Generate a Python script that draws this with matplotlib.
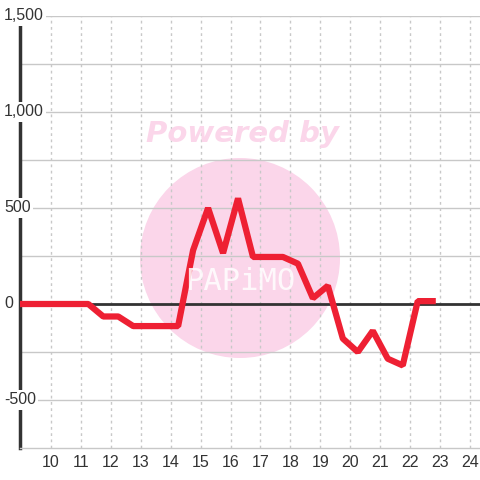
import matplotlib
matplotlib.use("Agg")
import matplotlib.pyplot as plt
from matplotlib.patches import Circle
import matplotlib.transforms as mtransforms

plt.rcParams['font.family'] = ['Liberation Sans', 'DejaVu Sans']

# data
hours = [8.75, 9.25, 9.75, 10.25, 10.75, 11.25, 11.75, 12.25, 12.75, 13.25,
         13.75, 14.25, 14.75, 15.25, 15.75, 16.25, 16.75, 17.25, 17.75, 18.25,
         18.75, 19.25, 19.75, 20.25, 20.75, 21.25, 21.75, 22.25, 22.75]
values = [0, 0, 0, 0, 0, 0, -65, -65, -115, -115,
          -115, -115, 280, 500, 265, 550, 245, 245, 245, 210,
          30, 95, -180, -250, -140, -285, -320, 15, 15]
x_ticks = list(range(10, 25))
y_ticks = [1500, 1000, 500, 0, -500]
y_tick_labels = ["1,500", "1,000", "500", "0", "-500"]

fig = plt.figure(figsize=(4.8, 4.8), dpi=100)
ax = fig.add_axes([20/480, 32/480, 460/480, 432/480])

ax.set_xlim(8.97, 24.33)
ax.set_ylim(-750, 1500)

# grid
for yv in range(-500, 1501, 250):
    ax.axhline(yv, color="#c8c8c8", lw=1, zorder=1)
for xv in x_ticks:
    ax.axvline(xv, color="#c8c8c8", lw=1, ls=(0, (2, 2.5)), zorder=1)

# watermark
circ = Circle((240, 480 - 258), 100, transform=None, facecolor="#fbd6ea",
              edgecolor="none", zorder=0.5)
ax.add_artist(circ)
fig.text(242/480, 1 - 134/480, "Powered by", color="#fbd6ea", fontsize=21,
         fontweight="bold", fontstyle="italic", ha="center", va="center",
         family=["DejaVu Sans"], zorder=0.6)
fig.text(240/480, 1 - 282/480, "PAPiMO", color="white", fontsize=22,
         ha="center", va="center", alpha=0.85, zorder=0.6,
         family=["DejaVu Sans Mono"])

ax.axhline(0, color="#333333", lw=2, zorder=2)

ax.plot(hours, values, color="#ee2033", lw=4.5, solid_joinstyle="bevel",
        zorder=3)

for s in ["top", "right"]:
    ax.spines[s].set_visible(False)
ax.spines["left"].set_color("#333333")
ax.spines["left"].set_linewidth(2.5)
ax.spines["bottom"].set_color("#c8c8c8")
ax.spines["bottom"].set_linewidth(1)

ax.set_xticks(x_ticks)
ax.set_xticklabels([str(t) for t in x_ticks])
ax.tick_params(axis="x", length=0, pad=5, labelsize=11.5, labelcolor="#333333")
ax.set_yticks([])

trans = mtransforms.blended_transform_factory(fig.transFigure, ax.transData)
for yv, lab in zip(y_ticks, y_tick_labels):
    ax.text(4/480, yv, lab, transform=trans, ha="left", va="center",
            fontsize=11.5, color="#333333", zorder=5,
            bbox=dict(facecolor="white", edgecolor="none", pad=1.5))

fig.savefig("out.png", dpi=100)
